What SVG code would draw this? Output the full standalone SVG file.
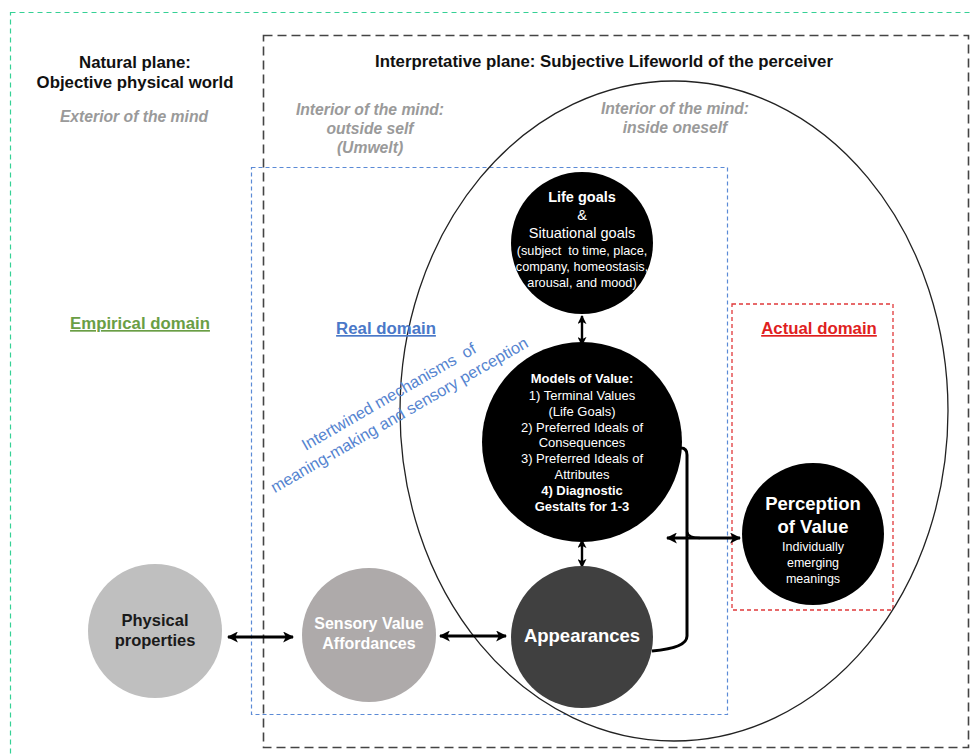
<svg xmlns="http://www.w3.org/2000/svg" width="973" height="755" viewBox="0 0 973 755">
<defs>
<style>
text{font-family:"Liberation Sans",Arial,sans-serif;text-anchor:middle}
.h{font-weight:bold;font-size:16.8px;fill:#111}
.gi{font-weight:bold;font-style:italic;font-size:15.7px;fill:#9a9a9a}
.dom{font-weight:bold;font-size:16.8px;text-decoration:underline}
.w{fill:#fff}
.b{font-weight:bold}
.conn{stroke:#000;fill:none}
</style>
<marker id="ah" viewBox="0 0 10 10" refX="9" refY="5" markerUnits="userSpaceOnUse" markerWidth="11" markerHeight="11" orient="auto-start-reverse"><path d="M0,0 L10,5 L0,10 L2.5,5 z" fill="#000"/></marker>
<marker id="as" viewBox="0 0 10 10" refX="9" refY="5" markerUnits="userSpaceOnUse" markerWidth="9" markerHeight="9" orient="auto-start-reverse"><path d="M0,0 L10,5 L0,10 L2.5,5 z" fill="#000"/></marker>
</defs>
<rect width="973" height="755" fill="#fff"/>
<g id="frames" fill="none">
<rect x="10.5" y="12.5" width="990" height="780" stroke="#35d195" stroke-width="1.2" stroke-dasharray="5,4"/>
<rect x="263.5" y="35.5" width="705" height="712" stroke="#444" stroke-width="1.6" stroke-dasharray="9,5"/>
<rect x="251.5" y="167.5" width="476" height="547" stroke="#5b8ad6" stroke-width="1.2" stroke-dasharray="4,3"/>
<rect x="732" y="304" width="161" height="306" stroke="#e0383a" stroke-width="1.3" stroke-dasharray="4,3"/>
<ellipse cx="674" cy="411" rx="274" ry="330" stroke="#222" stroke-width="1.3"/>
</g>
<g id="labels">
<text class="h" x="135" y="68">Natural plane:</text>
<text class="h" x="135" y="88">Objective physical world</text>
<text class="h" x="604" y="67">Interpretative plane: Subjective Lifeworld of the perceiver</text>
<text class="gi" x="134" y="122">Exterior of the mind</text>
<text class="gi" x="370" y="115">Interior of the mind:</text>
<text class="gi" x="370" y="134">outside self</text>
<text class="gi" x="370" y="153">(Umwelt)</text>
<text class="gi" x="675" y="114">Interior of the mind:</text>
<text class="gi" x="675" y="133">inside oneself</text>
<text class="dom" x="140" y="329" fill="#6a9e45">Empirical domain</text>
<text class="dom" x="386" y="334" fill="#4a78c8">Real domain</text>
<text class="dom" x="819" y="334" fill="#e01e1e">Actual domain</text>
<g transform="translate(397,411) rotate(-30)" fill="#5584d0" font-size="16.3">
<text x="0" y="-11" xml:space="preserve">Intertwined mechanisms  of</text>
<text x="0" y="10">meaning-making and sensory perception</text>
</g>
</g>
<g id="connectors">
<line class="conn" x1="228" y1="637" x2="293" y2="637" stroke-width="2.8" marker-start="url(#ah)" marker-end="url(#ah)"/>
<line class="conn" x1="440" y1="636" x2="506" y2="636" stroke-width="2.8" marker-start="url(#ah)" marker-end="url(#ah)"/>
<line class="conn" x1="582" y1="316" x2="582" y2="345" stroke-width="2.4" marker-start="url(#as)" marker-end="url(#as)"/>
<line class="conn" x1="582" y1="540" x2="582" y2="567" stroke-width="2.4" marker-start="url(#as)" marker-end="url(#as)"/>
<path class="conn" d="M670 448 L681 448 Q687 448 687 455 L687 636 Q687 648 652 651" stroke-width="3"/>
<path class="conn" d="M687 532 Q688 538 700 538" stroke-width="2.4"/>
<line class="conn" x1="667" y1="538" x2="740" y2="538" stroke-width="3" marker-start="url(#ah)" marker-end="url(#ah)"/>
</g>
<g id="life-goals">
<circle cx="582" cy="243" r="71" fill="#000"/>
<text class="w b" x="582" y="202" font-size="14.5">Life goals</text>
<text class="w" x="582" y="220" font-size="14.5">&amp;</text>
<text class="w" x="582" y="238" font-size="14.5">Situational goals</text>
<text class="w" x="582" y="255" font-size="12.7" xml:space="preserve">(subject  to time, place,</text>
<text class="w" x="582" y="271" font-size="12.7">company, homeostasis,</text>
<text class="w" x="582" y="287" font-size="12.7">arousal, and mood)</text>
</g>
<g id="models-of-value">
<circle cx="582" cy="442" r="100" fill="#000"/>
<text class="w b" x="582" y="383" font-size="13">Models of Value:</text>
<text class="w" x="582" y="400" font-size="13">1) Terminal Values</text>
<text class="w" x="582" y="416" font-size="13">(Life Goals)</text>
<text class="w" x="582" y="432" font-size="13">2) Preferred Ideals of</text>
<text class="w" x="582" y="447" font-size="13">Consequences</text>
<text class="w" x="582" y="463" font-size="13">3) Preferred Ideals of</text>
<text class="w" x="582" y="479" font-size="13">Attributes</text>
<text class="w b" x="582" y="495" font-size="13">4) Diagnostic</text>
<text class="w b" x="582" y="511" font-size="13">Gestalts for 1-3</text>
</g>
<g id="appearances">
<circle cx="582" cy="637" r="71" fill="#404040"/>
<text class="w b" x="582" y="642" font-size="18.5">Appearances</text>
</g>
<g id="sensory-value-affordances">
<circle cx="369" cy="635" r="67" fill="#aeaaaa"/>
<text class="w b" x="369" y="629" font-size="16">Sensory Value</text>
<text class="w b" x="369" y="649" font-size="16">Affordances</text>
</g>
<g id="physical-properties">
<circle cx="155" cy="631" r="67" fill="#bfbfbf"/>
<text class="b" x="155" y="626" font-size="16.5" fill="#1a1a1a">Physical</text>
<text class="b" x="155" y="646" font-size="16.5" fill="#1a1a1a">properties</text>
</g>
<g id="perception-of-value">
<circle cx="813" cy="534" r="71" fill="#000"/>
<text class="w b" x="813" y="510" font-size="18.5">Perception</text>
<text class="w b" x="813" y="533" font-size="18.5">of Value</text>
<text class="w" x="813" y="551" font-size="12.5">Individually</text>
<text class="w" x="813" y="567" font-size="12.5">emerging</text>
<text class="w" x="813" y="583" font-size="12.5">meanings</text>
</g>
</svg>
